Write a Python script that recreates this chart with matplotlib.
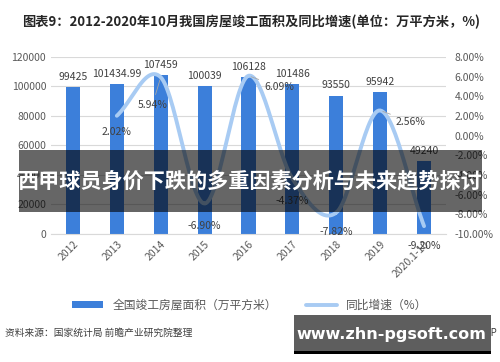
import numpy as np
import matplotlib.pyplot as plt
from matplotlib.patches import Rectangle

plt.rcParams['font.family'] = ['Noto Sans CJK SC', 'DejaVu Sans']

years = ['2012', '2013', '2014', '2015', '2016', '2017', '2018', '2019', '2020.1-10']
area = [99425, 101434.99, 107459, 100039, 106128, 101486, 93550, 95942, 49240]
area_labels = ['99425', '101434.99', '107459', '100039', '106128', '101486', '93550', '95942', '49240']
growth = [None, 2.02, 5.94, -6.90, 6.09, -4.37, -7.82, 2.56, -9.20]

bar_col = '#3C7FDA'
line_col = '#A8CBF3'
txt_col = '#595959'


def smooth(xs, ys, n=30):
    # catmull-rom curve through the points, like excel's smoothed line
    xs = np.asarray(xs, float)
    ys = np.asarray(ys, float)
    px = np.concatenate([[2 * xs[0] - xs[1]], xs, [2 * xs[-1] - xs[-2]]])
    py = np.concatenate([[2 * ys[0] - ys[1]], ys, [2 * ys[-1] - ys[-2]]])
    ox, oy = [], []
    t = np.linspace(0, 1, n)
    for i in range(1, len(px) - 2):
        for p, o in ((px, ox), (py, oy)):
            p0, p1, p2, p3 = p[i - 1], p[i], p[i + 1], p[i + 2]
            o.extend(0.5 * ((2 * p1) + (-p0 + p2) * t + (2 * p0 - 5 * p1 + 4 * p2 - p3) * t ** 2
                            + (-p0 + 3 * p1 - 3 * p2 + p3) * t ** 3))
    return np.array(ox), np.array(oy)


fig = plt.figure(figsize=(5, 3.62), dpi=100)
ax = fig.add_axes([0.102, 0.3536, 0.79, 0.489])
x = np.arange(len(years))

ax.bar(x, area, width=0.32, color=bar_col, zorder=2, label='全国竣工房屋面积（万平方米）')
ax.set_ylim(0, 120000)
ax.set_xlim(-0.5, len(years) - 0.5)
ax.set_yticks(range(0, 120001, 20000))
ax.grid(axis='y', color='#D9D9D9', lw=0.8, zorder=0)
ax.set_axisbelow(True)
for s in ['top', 'right', 'left']:
    ax.spines[s].set_visible(False)
ax.spines['bottom'].set_color('#D9D9D9')
ax.tick_params(axis='both', length=0, labelsize=7.5, colors=txt_col)
ax.set_xticks(x)
ax.set_xticklabels(years, rotation=45, ha='right', rotation_mode='anchor')
for xi, v, lab in zip(x, area, area_labels):
    ax.annotate(lab, (xi, v), xytext=(0, 4), textcoords='offset points',
                ha='center', va='bottom', fontsize=7.5, color='#404040', zorder=5)

ax2 = ax.twinx()
ax2.set_ylim(-10, 8)
ax2.set_yticks(range(-10, 9, 2))
ax2.set_yticklabels(['%.2f%%' % v for v in range(-10, 9, 2)])
ax2.tick_params(axis='y', length=0, labelsize=7.5, colors=txt_col, pad=6)
for s in ax2.spines.values():
    s.set_visible(False)

gx = [xi for xi, g in zip(x, growth) if g is not None]
gy = [g for g in growth if g is not None]
sx, sy = smooth(gx, gy)
ax2.plot(sx, sy, color=line_col, lw=2.8, solid_capstyle='round', zorder=3, label='同比增速（%）')

offs = {1: (0, -12), 2: (-6, -20), 3: (0, -16), 4: (22, -8), 5: (0, -16),
        6: (0, -14), 7: (22, -8), 8: (0, -14)}
for xi, g in zip(gx, gy):
    dx, dy = offs[xi]
    ax2.annotate('%.2f%%' % g, (xi, g), xytext=(dx, dy), textcoords='offset points',
                 ha='center', va='center', fontsize=7.5, color='#404040', zorder=6,
                 arrowprops=dict(arrowstyle='-', color='#A6A6A6', lw=0.6) if xi in (2, 4, 7) else None)

h1, l1 = ax.get_legend_handles_labels()
h2, l2 = ax2.get_legend_handles_labels()
fig.legend(h1 + h2, l1 + l2, loc='center', bbox_to_anchor=(0.5, 0.157), ncol=2, frameon=False,
           fontsize=8.5, labelcolor=txt_col, handlelength=2.6, columnspacing=2.5, handleheight=0.5)

fig.text(0.044, 0.938, '图表9：2012-2020年10月我国房屋竣工面积及同比增速(单位：万平方米，%)',
         fontsize=9.5, fontweight='bold', color='#262626', va='center')
fig.text(0.01, 0.08, '资料来源：国家统计局 前瞻产业研究院整理', fontsize=7, color='#404040', va='center')
fig.text(0.995, 0.08, '@前瞻经济学人APP', fontsize=7, color='#404040', va='center', ha='right')

# overlay banner
fig.patches.append(Rectangle((0.038, 0.414), 0.926, 0.171, transform=fig.transFigure,
                             facecolor='black', alpha=0.6, zorder=10))
fig.text(0.5, 0.5, '西甲球员身价下跌的多重因素分析与未来趋势探讨', ha='center', va='center',
         fontsize=15.2, fontweight='bold', color='white', zorder=11)
fig.patches.append(Rectangle((0.588, 0.028), 0.394, 0.102, transform=fig.transFigure,
                             facecolor='#5E5E5E', zorder=10))
fig.patches.append(Rectangle((0.588, 0.022), 0.394, 0.008, transform=fig.transFigure,
                             facecolor='black', zorder=10))
fig.text(0.783, 0.077, 'www.zhn-pgsoft.com', ha='center', va='center',
         fontsize=11.5, fontweight='bold', color='white', zorder=11, family='DejaVu Sans')

fig.savefig('out.png', dpi=100)
